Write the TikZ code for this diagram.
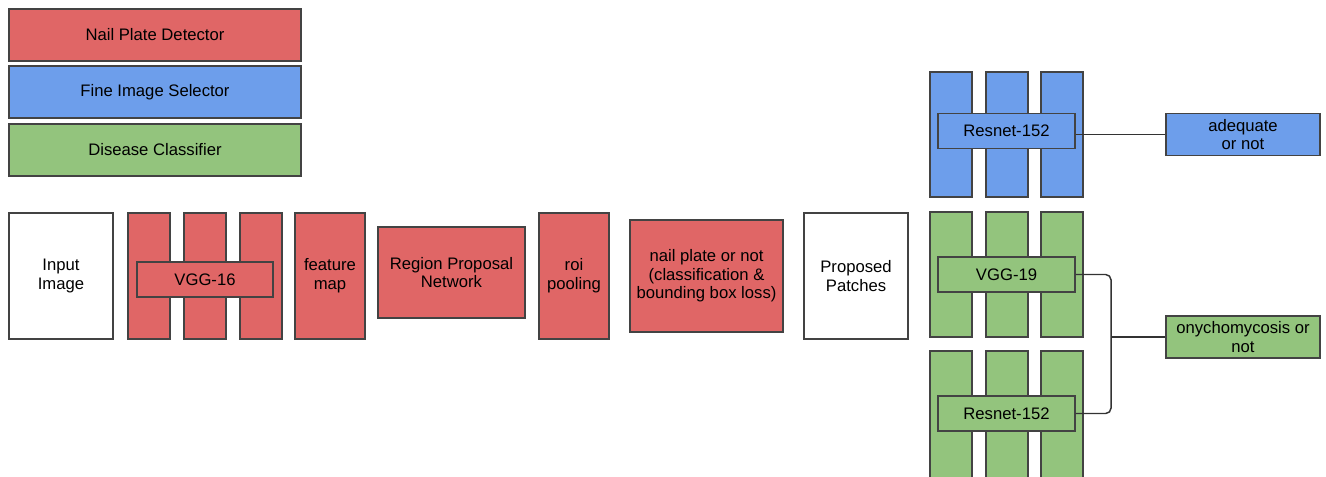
\documentclass[tikz,border=0pt]{standalone}
\usepackage{fontspec}
\setmainfont{Liberation Sans}
\definecolor{nailred}{HTML}{E06666}
\definecolor{selblue}{HTML}{6D9EEB}
\definecolor{disgreen}{HTML}{93C47D}
\definecolor{edgegray}{HTML}{434343}

\begin{document}
\begin{tikzpicture}[x=0.75pt, y=-0.75pt,
	every node/.style={draw=edgegray, line width=1.1pt, align=center, inner sep=2pt,
		font=\fontsize{12.5}{14}\selectfont},
	box/.style 2 args={minimum width=#1*0.75pt, minimum height=#2*0.75pt},
	redbox/.style={fill=nailred},
	bluebox/.style={fill=selblue},
	greenbox/.style={fill=disgreen},
	plainbox/.style={fill=white},
	link/.style={draw=black!80, line width=1.1pt}]
\useasboundingbox (0,0) rectangle (1326,476);

% legend
\node[redbox, box={292}{52}] (legnail) at (155,35) {Nail Plate Detector};
\node[bluebox, box={292}{52}] (legsel) at (155,92) {Fine Image Selector};
\node[greenbox, box={292}{52}] (legdis) at (155,150) {Disease Classifier};

% nail plate detector
\node[plainbox, box={104}{126}] (input) at (61,276) {Input\\Image};
\foreach \cx [count=\i] in {149,205,261}
	\node[redbox, box={42}{126}] (vggcol\i) at (\cx,276) {};
\node[redbox, box={136}{35}] (vgg16) at (205,279.5) {VGG-16};
\node[redbox, box={70}{126}] (feature) at (330,276) {feature\\map};
\node[redbox, box={147}{91}] (rpn) at (451.5,272.5) {Region Proposal\\Network};
\node[redbox, box={70}{126}] (roi) at (574,276) {roi\\pooling};
\node[redbox, box={153}{112}] (nailornot) at (706.5,276)
	{nail plate or not\\(classification \&\\bounding box loss)};
\node[plainbox, box={104}{126}] (patches) at (856,276) {Proposed\\Patches};

% fine image selector
\foreach \cx [count=\i] in {951,1007,1062}
	\node[bluebox, box={42}{125}] (selcol\i) at (\cx,134.5) {};
\node[bluebox, box={137}{35}] (selresnet) at (1006.5,131) {Resnet-152};
\node[bluebox, box={154}{42}] (adequate) at (1243,134.5) {adequate\\or not};
\draw[link] (adequate.west -| selresnet.east) -- (adequate.west);

% disease classifier
\foreach \cx [count=\i] in {951,1007,1062}{
	\node[greenbox, box={42}{125}] (vggcolb\i) at (\cx,274.5) {};
	\node[greenbox, box={42}{140}] (rescol\i) at (\cx,421) {};
}
\node[greenbox, box={137}{35}] (vgg19) at (1006.5,274.5) {VGG-19};
\node[greenbox, box={137}{35}] (disresnet) at (1006.5,413.5) {Resnet-152};
\node[greenbox, box={154}{42}] (onycho) at (1243,337) {onychomycosis or\\not};
\coordinate (join) at (1111,337);
\draw[link, rounded corners=4pt] (vgg19.east) -| (join) |- (disresnet.east);
\draw[link] (join) -- (onycho.west);
\end{tikzpicture}
\end{document}
